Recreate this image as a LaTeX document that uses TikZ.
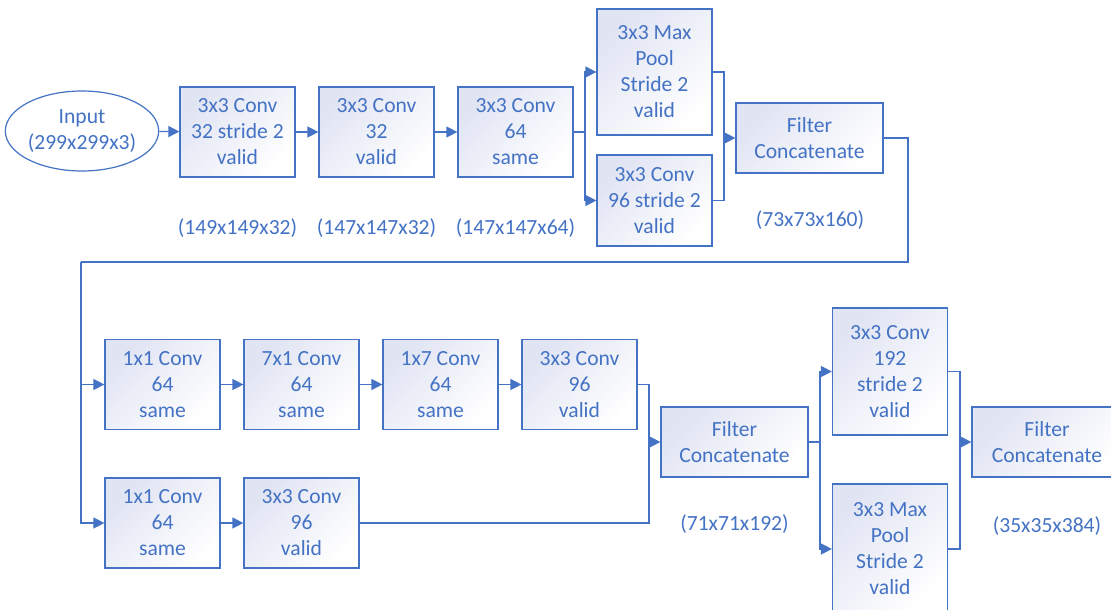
\documentclass[tikz,border=0pt]{standalone}
\usepackage{fontspec}
\setmainfont{Carlito}
\usepackage{tikz}
\usetikzlibrary{positioning,arrows.meta,shapes.geometric}

\definecolor{netblue}{HTML}{4472C4}
\definecolor{boxtint}{HTML}{E0E4F3}

\begin{document}
\begin{tikzpicture}[x=1pt,y=-1pt,line width=1.2pt,
	every node/.style={text=netblue,font=\fontsize{21.6}{26}\selectfont,align=center,inner sep=0pt},
	layer/.style={draw=netblue,rectangle,minimum width=115pt,minimum height=90pt,
		top color=boxtint,bottom color=white,shading angle=45},
	catbox/.style={layer,minimum width=147pt,minimum height=70pt},
	dims/.style={},
	flow/.style={-{Triangle[length=11pt,width=11pt]},draw=netblue}]
	\useasboundingbox (0,0) rectangle (1111,610);
	\clip (0,0) rectangle (1111,610);

	% first row
	\node [draw=netblue,fill=white,ellipse,minimum width=148pt,minimum height=80pt] (in) at (82,131) {Input\\(299x299x3)};
	\node [layer] (l1) at (237.5,132) {3x3 Conv\\32 stride 2\\valid};
	\node [layer] (l2) at (376.5,132) {3x3 Conv\\32\\valid};
	\node [layer] (l3) at (515.5,132) {3x3 Conv\\64\\same};
	\node [layer,minimum height=126pt] (mp1) at (654.5,72) {3x3 Max\\Pool\\Stride 2\\valid};
	\node [layer,minimum height=91pt] (cv1) at (654.5,200.5) {3x3 Conv\\96 stride 2\\valid};
	\node [catbox] (fc1) at (809.5,138) {Filter\\Concatenate};

	\node [dims] (d1) at (237.5,228) {(149x149x32)};
	\node [dims] (d2) at (376.5,228) {(147x147x32)};
	\node [dims] (d3) at (515.5,228) {(147x147x64)};
	\node [dims] (d4) at (810,220) {(73x73x160)};

	% second and third rows
	\node [layer] (r2a) at (162.5,384.5) {1x1 Conv\\64\\same};
	\node [layer] (r2b) at (301.5,384.5) {7x1 Conv\\64\\same};
	\node [layer] (r2c) at (440.5,384.5) {1x7 Conv\\64\\same};
	\node [layer] (r2d) at (579.5,384.5) {3x3 Conv\\96\\valid};
	\node [layer] (r3a) at (162.5,523) {1x1 Conv\\64\\same};
	\node [layer] (r3b) at (301.5,523) {3x3 Conv\\96\\valid};
	\node [catbox] (fc2) at (734.5,442) {Filter\\Concatenate};
	\node [layer,minimum height=127pt] (cv2) at (890,371.5) {3x3 Conv\\192\\stride 2\\valid};
	\node [layer,minimum height=130pt] (mp2) at (890,549) {3x3 Max\\Pool\\Stride 2\\valid};
	\node [catbox,minimum width=150pt] (fc3) at (1047,442) {Filter\\Concatenate};

	\node [dims] (d5) at (734.5,524) {(71x71x192)};
	\node [dims] (d6) at (1047,526) {(35x35x384)};

	\coordinate (s1) at (585,132);
	\coordinate (m1) at (724,138);
	\coordinate (t1) at (908,262);
	\coordinate (t2) at (81,262);
	\coordinate (m2) at (649,442);
	\coordinate (s2) at (820,442);
	\coordinate (m3) at (960,442);

	\draw [flow] (in) -- (l1);
	\draw [flow] (l1) -- (l2);
	\draw [flow] (l2) -- (l3);
	\draw [netblue] (l3) -- (s1);
	\draw [flow] (s1) |- (mp1);
	\draw [flow] (s1) |- (cv1);
	\draw [netblue] (mp1.east) -| (m1);
	\draw [netblue] (cv1.east) -| (m1);
	\draw [flow] (m1) -- (fc1);
	\draw [netblue] (fc1.east) -| (t1) -- (t2);
	\draw [flow] (t2) |- (r2a);
	\draw [flow] (t2) |- (r3a);
	\draw [flow] (r2a) -- (r2b);
	\draw [flow] (r2b) -- (r2c);
	\draw [flow] (r2c) -- (r2d);
	\draw [flow] (r3a) -- (r3b);
	\draw [netblue] (r2d.east) -| (m2);
	\draw [netblue] (r3b.east) -| (m2);
	\draw [flow] (m2) -- (fc2);
	\draw [netblue] (fc2) -- (s2);
	\draw [flow] (s2) |- (cv2);
	\draw [flow] (s2) |- (mp2);
	\draw [netblue] (cv2.east) -| (m3);
	\draw [netblue] (mp2.east) -| (m3);
	\draw [flow] (m3) -- (fc3);
\end{tikzpicture}
\end{document}
